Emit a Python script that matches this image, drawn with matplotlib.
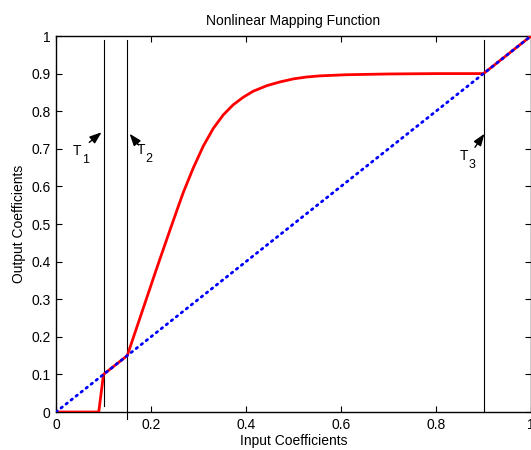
import matplotlib
matplotlib.use("Agg")
import matplotlib.pyplot as plt

plt.rcParams['font.family'] = ['Liberation Sans', 'DejaVu Sans']

# mapping curve
x_map = [0, 0.09, 0.1, 0.15, 0.212, 0.235, 0.255, 0.268, 0.289, 0.31, 0.331,
         0.352, 0.373, 0.394, 0.415, 0.444, 0.472, 0.5, 0.528, 0.556, 0.612,
         0.7, 0.8, 0.9, 1.0]
y_map = [0, 0, 0.1, 0.15, 0.382, 0.466, 0.538, 0.584, 0.649, 0.707, 0.754,
         0.79, 0.817, 0.837, 0.853, 0.868, 0.878, 0.886, 0.891, 0.894, 0.897,
         0.899, 0.9, 0.9, 1.0]

# identity line
x_id = [0, 1]
y_id = [0, 1]

# thresholds: x position, line bottom, line top
thresholds = [0.1, 0.15, 0.9]
thr_bottom = [0.015, -0.018, 0.0]
thr_top = [0.99, 0.99, 0.99]
thr_names = ['T', 'T', 'T']
thr_subs = ['1', '2', '3']
# arrow head, arrow tail
arrow_heads = [(0.096, 0.744), (0.155, 0.740), (0.902, 0.740)]
arrow_tails = [(0.070, 0.717), (0.174, 0.710), (0.882, 0.704)]
# label baseline positions for the letter and its subscript
name_pos = [(0.036, 0.6835), (0.170, 0.686), (0.850, 0.670)]
sub_pos = [(0.055, 0.663), (0.189, 0.666), (0.868, 0.649)]

xticks = [0, 0.2, 0.4, 0.6, 0.8, 1]
xticklabels = ['0', '0.2', '0.4', '0.6', '0.8', '1']
yticks = [0, 0.1, 0.2, 0.3, 0.4, 0.5, 0.6, 0.7, 0.8, 0.9, 1]
yticklabels = ['0', '0.1', '0.2', '0.3', '0.4', '0.5', '0.6', '0.7', '0.8', '0.9', '1']

fig = plt.figure(figsize=(5.31, 4.5), dpi=100)
ax = fig.add_axes([56 / 531, 38 / 450, 475 / 531, 376 / 450])

ax.plot(x_map, y_map, color='red', lw=2.0, solid_joinstyle='round', zorder=3)
ax.plot(x_id, y_id, color='blue', lw=2.0, linestyle=(0, (0.6, 1.7)),
        dash_capstyle='round', zorder=4)

for x, b, t in zip(thresholds, thr_bottom, thr_top):
    ax.plot([x, x], [b, t], color='black', lw=0.8, clip_on=False, zorder=2)

for head, tail in zip(arrow_heads, arrow_tails):
    ax.annotate('', xy=head, xytext=tail,
                arrowprops=dict(arrowstyle='-|>,head_length=0.6,head_width=0.22',
                                color='black', lw=1.0,
                                mutation_scale=12, shrinkA=0, shrinkB=0))

for name, sub, p1, p2 in zip(thr_names, thr_subs, name_pos, sub_pos):
    ax.text(p1[0], p1[1], name, fontsize=10, ha='left', va='baseline')
    ax.text(p2[0], p2[1], sub, fontsize=9, ha='left', va='baseline')

ax.set_xlim(0, 1)
ax.set_ylim(0, 1)
ax.set_xticks(xticks)
ax.set_xticklabels(xticklabels)
ax.set_yticks(yticks)
ax.set_yticklabels(yticklabels)
ax.tick_params(direction='in', length=4, width=0.8, top=True, right=True,
               labelsize=10, pad=4)
for s in ax.spines.values():
    s.set_linewidth(1.0)

ax.set_title('Nonlinear Mapping Function', fontsize=10, pad=8)
ax.set_xlabel('Input Coefficients', fontsize=10, labelpad=2)
ax.set_ylabel('Output Coefficients', fontsize=10, labelpad=4)

fig.savefig('out.png', dpi=100)
